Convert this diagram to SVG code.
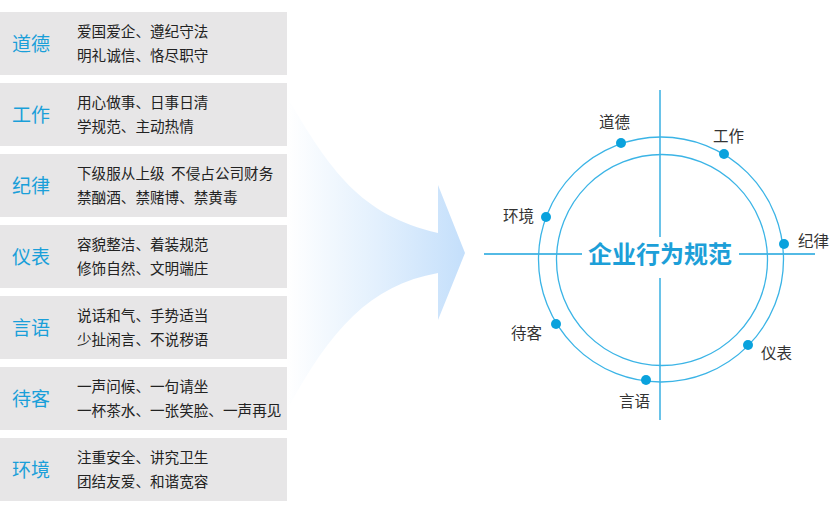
<svg xmlns="http://www.w3.org/2000/svg" width="835" height="509" viewBox="0 0 835 509">
<style>
.box{fill:#e7e6e7}
.lab{font-family:"Noto Sans CJK SC",sans-serif;font-size:19px;fill:#1a9fd9}
.desc{font-family:"Noto Sans CJK SC",sans-serif;font-size:14.6px;fill:#222}
.ring{fill:none;stroke:#3bb4e6;stroke-width:1.3}
.axis{stroke:#1aa3dd;stroke-width:1.3}
.dot{fill:#0aa2dd}
.cl{font-family:"Noto Sans CJK SC",sans-serif;font-size:15.5px;fill:#333}
.title{font-family:"Noto Sans CJK SC",sans-serif;font-size:24px;font-weight:bold;fill:#1d9fd8}
</style>
<defs>
<linearGradient id="ag" x1="287" y1="0" x2="465" y2="0" gradientUnits="userSpaceOnUse">
<stop offset="0" stop-color="#ffffff"/>
<stop offset="0.5" stop-color="#e3f0fd"/>
<stop offset="1" stop-color="#c4dffb"/>
</linearGradient>
</defs>
<rect width="835" height="509" fill="#fff"/>
<g id="arrow">
<path d="M287,97 C330,170 360,215 438,233 L438,185 L465,253 L438,320 L438,273 C370,285 330,330 287,410 Z" fill="url(#ag)"/>
<path d="M438,275 C370,287 330,332 289,412" fill="none" stroke="#fff" stroke-width="1.5"/>
</g>
<g id="n-daode"><rect class="box" x="0" y="12" width="287" height="63"/><text class="lab" x="12" y="51">道德</text><text class="desc" x="77" y="37">爱国爱企、遵纪守法</text><text class="desc" x="77" y="61">明礼诚信、恪尽职守</text></g>
<g id="n-gongzuo"><rect class="box" x="0" y="83" width="287" height="63"/><text class="lab" x="12" y="122">工作</text><text class="desc" x="77" y="108">用心做事、日事日清</text><text class="desc" x="77" y="132">学规范、主动热情</text></g>
<g id="n-jilv"><rect class="box" x="0" y="154" width="287" height="63"/><text class="lab" x="12" y="193">纪律</text><text class="desc" x="77" y="179">下级服从上级&#160;&#160;不侵占公司财务</text><text class="desc" x="77" y="203">禁酗酒、禁赌博、禁黄毒</text></g>
<g id="n-yibiao"><rect class="box" x="0" y="225" width="287" height="63"/><text class="lab" x="12" y="264">仪表</text><text class="desc" x="77" y="250">容貌整洁、着装规范</text><text class="desc" x="77" y="274">修饰自然、文明端庄</text></g>
<g id="n-yanyu"><rect class="box" x="0" y="296" width="287" height="63"/><text class="lab" x="12" y="335">言语</text><text class="desc" x="77" y="321">说话和气、手势适当</text><text class="desc" x="77" y="345">少扯闲言、不说秽语</text></g>
<g id="n-daike"><rect class="box" x="0" y="367" width="287" height="63"/><text class="lab" x="12" y="406">待客</text><text class="desc" x="77" y="392">一声问候、一句请坐</text><text class="desc" x="77" y="416">一杯茶水、一张笑脸、一声再见</text></g>
<g id="n-huanjing"><rect class="box" x="0" y="438" width="287" height="63"/><text class="lab" x="12" y="477">环境</text><text class="desc" x="77" y="463">注重安全、讲究卫生</text><text class="desc" x="77" y="487">团结友爱、和谐宽容</text></g>
<g id="connectors">
<line class="axis" x1="660" y1="90" x2="660" y2="237"/>
<line class="axis" x1="660" y1="278" x2="660" y2="420"/>
<line class="axis" x1="484" y1="254" x2="582" y2="254"/>
<line class="axis" x1="739" y1="254" x2="815" y2="254"/>
<circle class="ring" cx="661" cy="259.5" r="122.5"/>
<circle class="ring" cx="662" cy="260" r="105.5"/>
</g>
<g id="center"><text class="title" x="660" y="262.5" text-anchor="middle">企业行为规范</text></g>
<g id="c-daode"><circle class="dot" cx="621" cy="143" r="5"/><text class="cl" x="599" y="127.5">道德</text></g>
<g id="c-gongzuo"><circle class="dot" cx="724" cy="154" r="5"/><text class="cl" x="713" y="141.5">工作</text></g>
<g id="c-jilv"><circle class="dot" cx="784" cy="244" r="5"/><text class="cl" x="798" y="246.5">纪律</text></g>
<g id="c-yibiao"><circle class="dot" cx="748" cy="345" r="5"/><text class="cl" x="761" y="358.5">仪表</text></g>
<g id="c-yanyu"><circle class="dot" cx="646" cy="380" r="5"/><text class="cl" x="619" y="406.5">言语</text></g>
<g id="c-daike"><circle class="dot" cx="556" cy="324" r="5"/><text class="cl" x="511" y="338.5">待客</text></g>
<g id="c-huanjing"><circle class="dot" cx="546" cy="217" r="5"/><text class="cl" x="503" y="221.5">环境</text></g>
</svg>
